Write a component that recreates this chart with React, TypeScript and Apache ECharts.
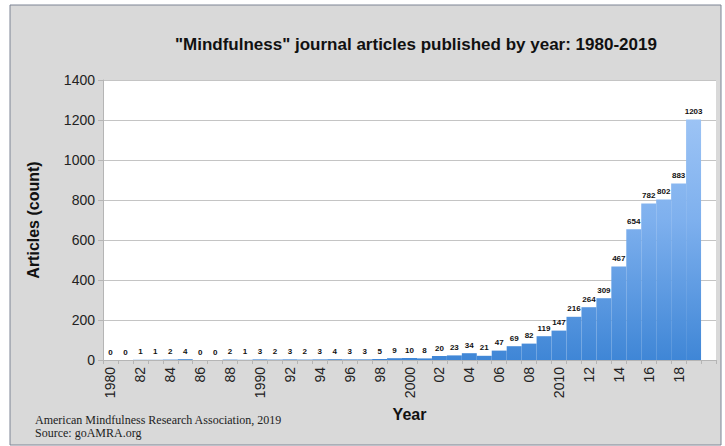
import React, { useEffect, useRef } from "react";
import * as echarts from "echarts";

const years: number[] = [];
for (let y = 1980; y <= 2019; y++) years.push(y);

const articles = [
  0, 0, 1, 1, 2, 4, 0, 0, 2, 1,
  3, 2, 3, 2, 3, 4, 3, 3, 5, 9,
  10, 8, 20, 23, 34, 21, 47, 69, 82, 119,
  147, 216, 264, 309, 467, 654, 782, 802, 883, 1203,
];

const yTicks = [0, 200, 400, 600, 800, 1000, 1200, 1400];

const FONT = "Liberation Sans, Arial, sans-serif";

export default function App() {
  const ref = useRef<HTMLDivElement>(null);
  useEffect(() => {
    if (!ref.current) return;
    const chart = echarts.init(ref.current, undefined, { renderer: "svg" });
    const categories = [...years.map(String), ""];
    const fmt = (v: string) => {
      if (!v) return "";
      const n = Number(v);
      return n % 10 === 0 ? v : v.slice(2);
    };
    chart.setOption({
      animation: false,
      backgroundColor: "#ffffff",
      textStyle: { fontFamily: FONT },
      graphic: [
        {
          type: "rect",
          z: -10,
          shape: { x: 10, y: 5, width: 711, height: 440 },
          style: { fill: "#d9d9d9", stroke: "#7d8494", lineWidth: 1 },
          silent: true,
        },
        {
          type: "text",
          left: 175,
          top: 36,
          style: {
            text: '"Mindfulness" journal articles published by year: 1980-2019',
            font: `bold 17px ${FONT}`,
            fill: "#111",
          },
        },
        {
          type: "text",
          left: 35,
          top: 413,
          style: {
            text: "American Mindfulness Research Association, 2019\nSource: goAMRA.org",
            font: "12px Liberation Serif, Times New Roman, serif",
            lineHeight: 13,
            fill: "#222",
          },
        },
      ],
      grid: {
        left: 103,
        right: 9,
        top: 80,
        bottom: 86,
        show: true,
        backgroundColor: "#ffffff",
        borderWidth: 0,
      },
      xAxis: {
        type: "category",
        data: categories,
        boundaryGap: true,
        name: "Year",
        nameLocation: "middle",
        nameGap: 45,
        nameTextStyle: { fontSize: 16, fontWeight: "bold", color: "#111", fontFamily: FONT },
        axisLine: { lineStyle: { color: "#b5b5b5" } },
        axisTick: { show: true, interval: 0, length: 4, lineStyle: { color: "#b5b5b5" } },
        axisLabel: {
          interval: 1,
          rotate: 90,
          fontSize: 14,
          color: "#222",
          margin: 7,
          fontFamily: FONT,
          formatter: fmt,
        },
        splitLine: { show: false },
      },
      yAxis: {
        type: "value",
        min: 0,
        max: yTicks[yTicks.length - 1],
        interval: yTicks[1] - yTicks[0],
        name: "Articles (count)",
        nameLocation: "middle",
        nameGap: 62,
        nameTextStyle: { fontSize: 16, fontWeight: "bold", color: "#111", fontFamily: FONT },
        axisLine: { show: true, lineStyle: { color: "#b5b5b5" } },
        axisTick: { show: true, length: 5, lineStyle: { color: "#b5b5b5" } },
        axisLabel: {
          fontSize: 14,
          color: "#222",
          margin: 8,
          fontFamily: FONT,
          formatter: (v: number) => String(v),
        },
        splitLine: { lineStyle: { color: "#c4c4c4" } },
      },
      series: [
        {
          type: "bar",
          data: articles,
          barCategoryGap: "0%",
          itemStyle: {
            color: new echarts.graphic.LinearGradient(
              0, 80, 0, 360,
              [
                { offset: 0, color: "#a8cbf7" },
                { offset: 0.5, color: "#7eb0ee" },
                { offset: 1, color: "#3f86d6" },
              ],
              true
            ),
          },
          label: {
            show: true,
            position: "top",
            distance: 4,
            fontSize: 8,
            fontWeight: "bold",
            color: "#111",
            fontFamily: FONT,
          },
        },
      ],
    });
    return () => chart.dispose();
  }, []);
  return (
    <div
      ref={ref}
      style={{ position: "absolute", left: 0, top: 0, width: 725, height: 446 }}
    />
  );
}
